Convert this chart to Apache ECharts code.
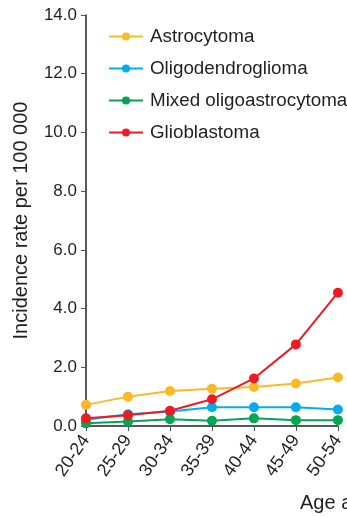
<!DOCTYPE html>
<html>
<head>
<meta charset="utf-8">
<script src="https://cdn.jsdelivr.net/npm/echarts@6/dist/echarts.min.js"></script>
<style>html,body{margin:0;padding:0;background:#fff;overflow:hidden}#c{width:347px;height:517px}</style>
</head>
<body>
<div id="c"></div>
<script>
var categories = ['20-24','25-29','30-34','35-39','40-44','45-49','50-54'];
var astrocytoma = [0.72, 1.00, 1.19, 1.27, 1.33, 1.45, 1.65];
var oligodendroglioma = [0.21, 0.40, 0.49, 0.64, 0.64, 0.64, 0.56];
var mixedOligoastrocytoma = [0.09, 0.15, 0.23, 0.18, 0.26, 0.20, 0.20];
var glioblastoma = [0.26, 0.37, 0.52, 0.91, 1.62, 2.78, 4.54];
var yTicks = [0, 2, 4, 6, 8, 10, 12, 14];

var font = 'Liberation Sans, Arial, Helvetica, sans-serif';
var txt = '#231f20';
function mk(name, data, color) {
  return {
    name: name, type: 'line', data: data,
    symbol: 'circle', symbolSize: 10,
    lineStyle: {color: color, width: 2},
    itemStyle: {color: color},
    emphasis: {disabled: true},
    animation: false
  };
}
var chart = echarts.init(document.getElementById('c'), null, {renderer: 'canvas'});
chart.setOption({
  animation: false,
  backgroundColor: '#fff',
  grid: {left: 86, right: 4, top: 15, bottom: 91, containLabel: false},
  legend: {
    orient: 'vertical', left: 103, top: 22,
    itemWidth: 34, itemHeight: 10, itemGap: 13,
    textStyle: {fontFamily: font, fontSize: 18.8, color: txt, padding: [0,0,0,2]},
    data: ['Astrocytoma','Oligodendroglioma','Mixed oligoastrocytoma','Glioblastoma']
  },
  xAxis: {
    type: 'category', data: categories, boundaryGap: false,
    axisLine: {lineStyle: {color: '#231f20', width: 1.5}},
    axisTick: {alignWithLabel: true, length: 5, lineStyle: {color: '#555'}},
    axisLabel: {rotate: 55, margin: 11, fontFamily: font, fontSize: 18, color: txt}
  },
  yAxis: {
    type: 'value', min: yTicks[0], max: yTicks[yTicks.length-1], interval: 2,
    name: 'Incidence rate per 100 000', nameLocation: 'middle', nameGap: 55,
    nameTextStyle: {fontFamily: font, fontSize: 20, color: txt},
    splitLine: {show: false},
    axisLine: {show: true, lineStyle: {color: '#231f20', width: 1.5}},
    axisTick: {show: true, length: 5, lineStyle: {color: '#555'}},
    axisLabel: {margin: 9, fontFamily: font, fontSize: 17, color: txt,
      formatter: function(v){ return v.toFixed(1); }}
  },
  graphic: [{
    type: 'text', left: 300, top: 493,
    style: {text: 'Age at diagnosis (years)', font: '20px ' + font, fill: txt}
  }],
  series: [
    mk('Astrocytoma', astrocytoma, '#FBB927'),
    mk('Oligodendroglioma', oligodendroglioma, '#00AEEF'),
    mk('Mixed oligoastrocytoma', mixedOligoastrocytoma, '#00A651'),
    mk('Glioblastoma', glioblastoma, '#ED1C24')
  ]
});
</script>
</body>
</html>
